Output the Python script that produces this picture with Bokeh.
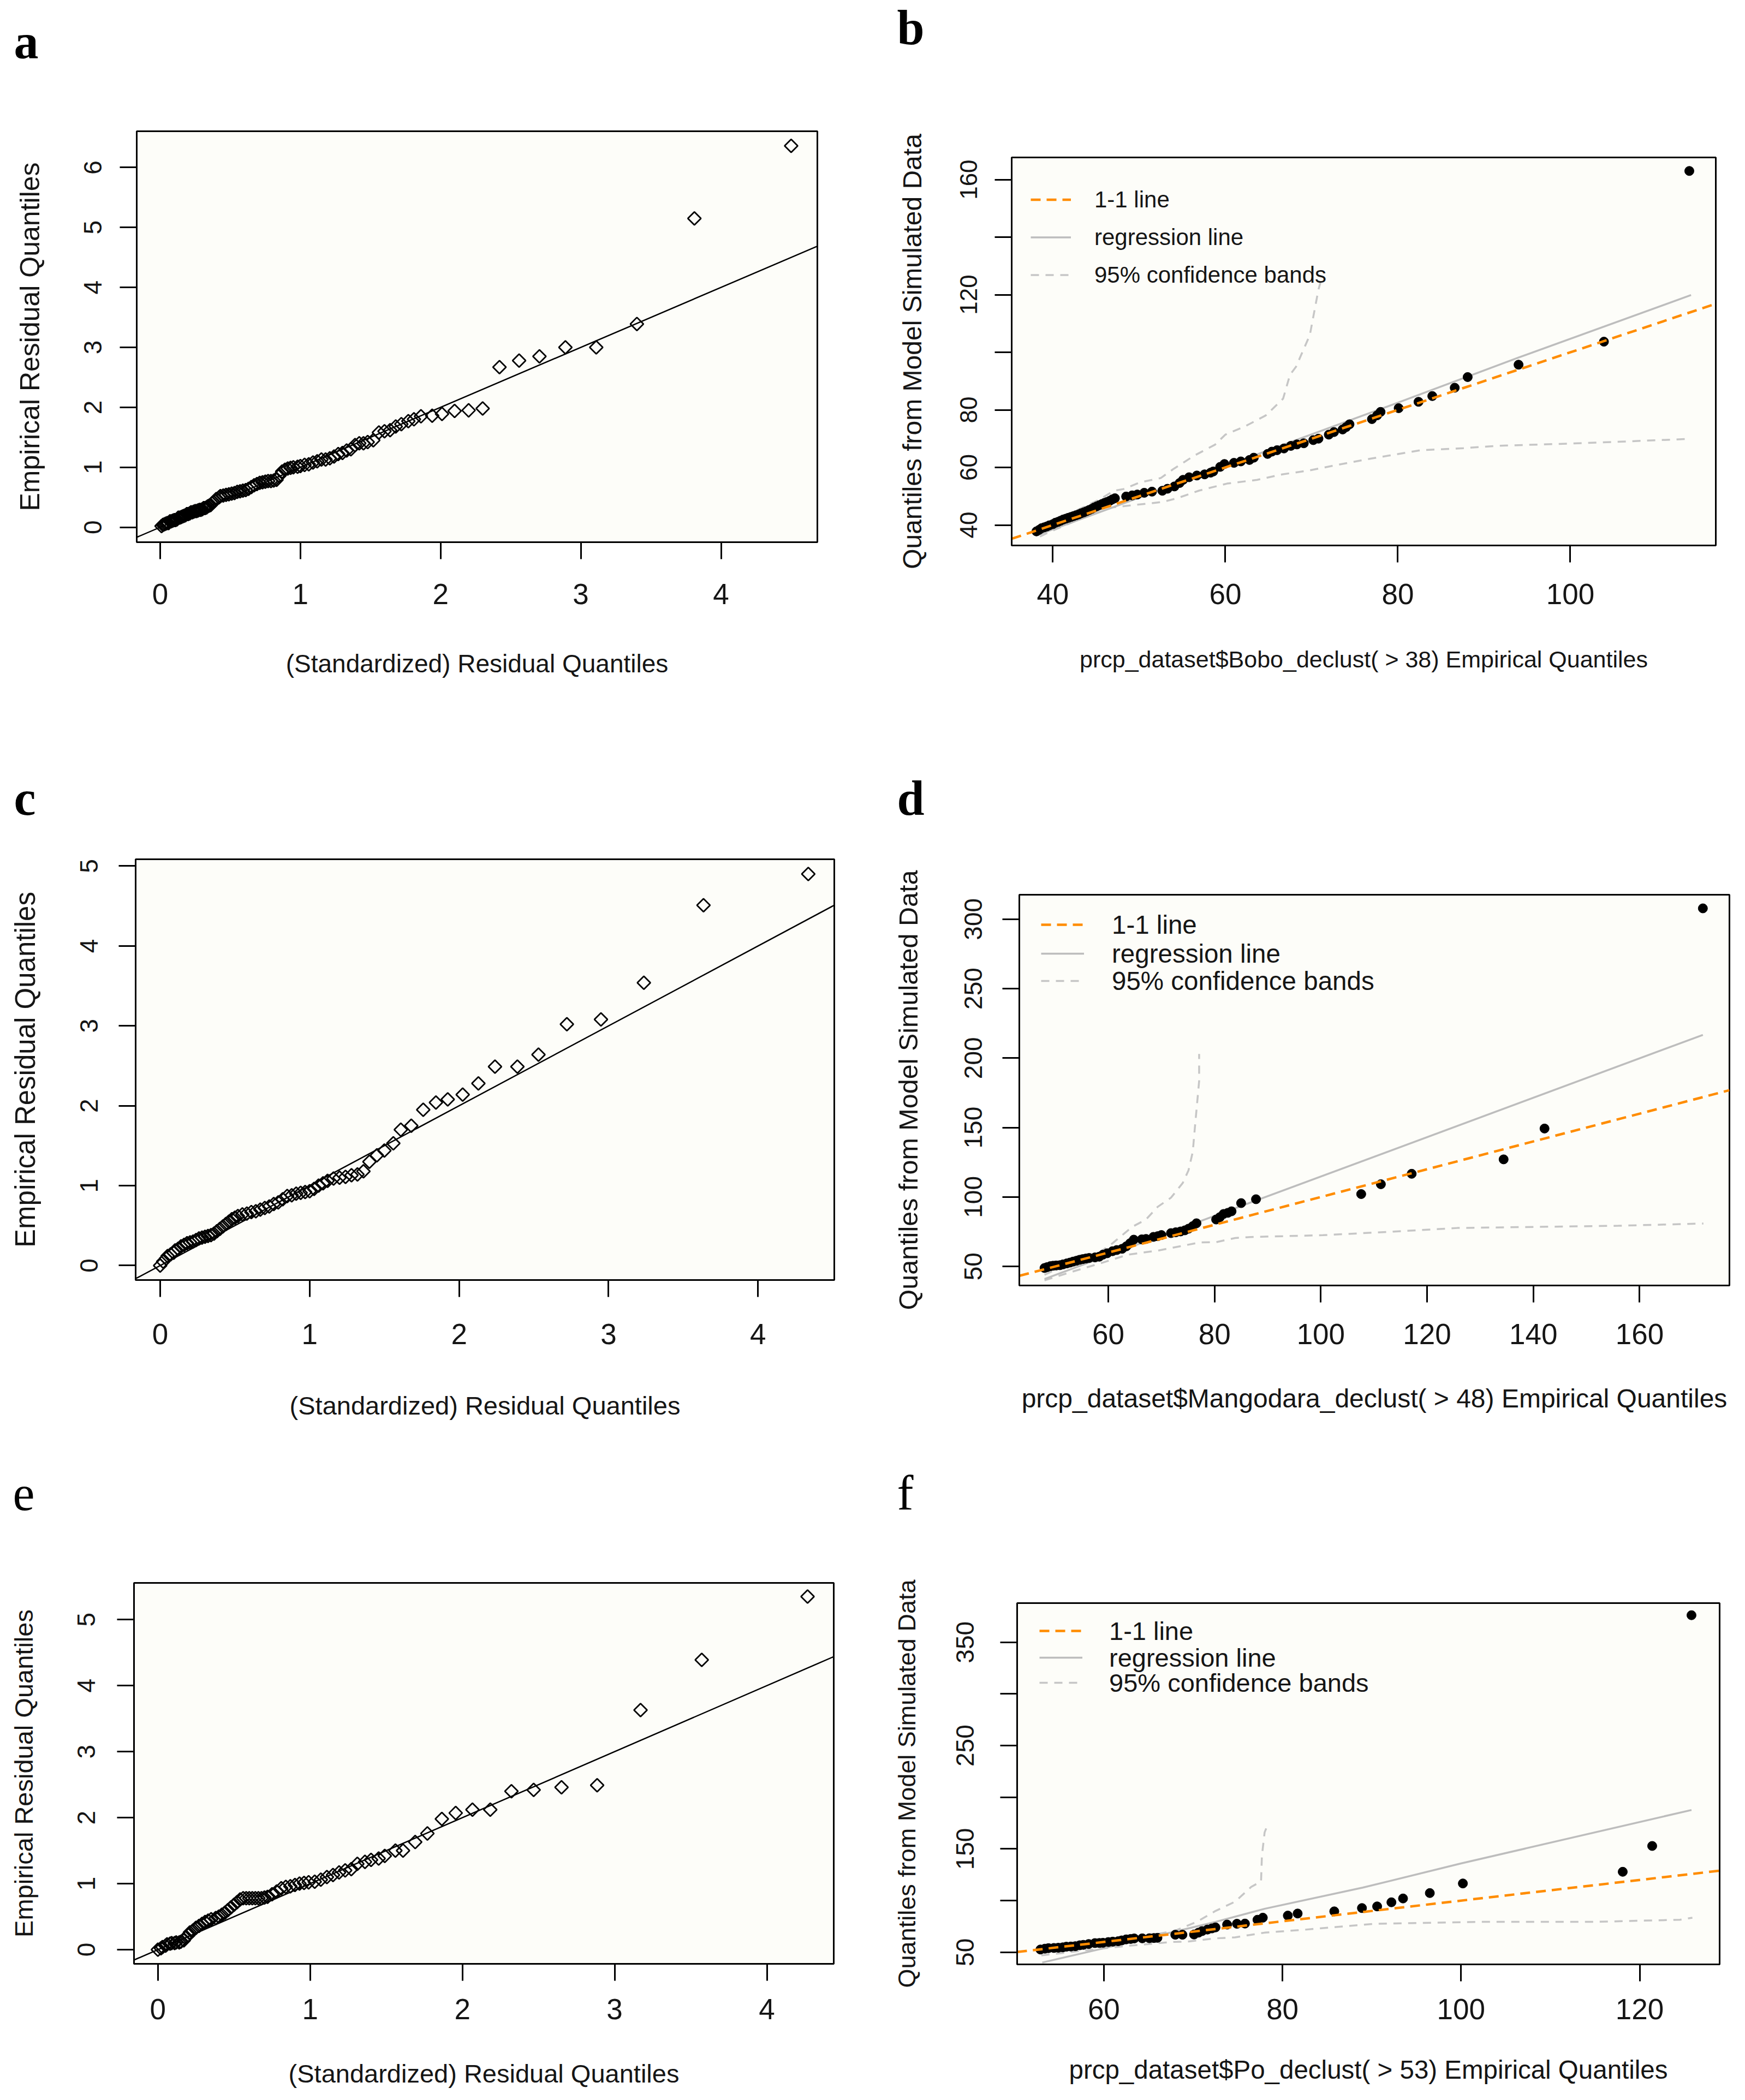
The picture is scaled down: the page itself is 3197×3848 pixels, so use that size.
import math
from bokeh.plotting import figure
from bokeh.models import Range1d, FixedTicker, Legend, LegendItem
from bokeh.layouts import column, row
from bokeh.core.properties import value
from bokeh.embed import file_html
from bokeh.resources import INLINE

# ---------------------------------------------------------------- data
# Panel a : residual quantile plot (Bobo)
a_model_q = [0.01, 0.02, 0.03, 0.04, 0.05, 0.06, 0.07, 0.08, 0.09, 0.10,
             0.11, 0.12, 0.13, 0.14, 0.15, 0.16, 0.17, 0.18, 0.19, 0.20,
             0.21, 0.22, 0.23, 0.24, 0.25, 0.26, 0.27, 0.28, 0.29, 0.30,
             0.31, 0.32, 0.33, 0.34, 0.35, 0.36, 0.37, 0.38, 0.39, 0.40,
             0.42, 0.43, 0.45,
             0.47, 0.49, 0.51, 0.53, 0.55, 0.57, 0.59, 0.61, 0.63, 0.65,
             0.67, 0.69, 0.71, 0.73, 0.75, 0.77, 0.79, 0.81, 0.83, 0.85,
             0.87, 0.89, 0.91, 0.93, 0.95,
             0.98, 1.00,
             1.03, 1.06, 1.09, 1.12, 1.15, 1.18, 1.21, 1.24, 1.27, 1.30,
             1.33, 1.36, 1.39, 1.42, 1.45, 1.48,
             1.52, 1.56, 1.60, 1.64, 1.68, 1.72,
             1.77, 1.81, 1.86,
             1.94, 2.01, 2.10, 2.20, 2.30,
             2.42, 2.56, 2.705, 2.89, 3.11, 3.40, 3.81, 4.50]
a_emp_q = [0.02, 0.04, 0.05, 0.06, 0.07, 0.07, 0.10, 0.10, 0.11, 0.12,
           0.12, 0.13, 0.16, 0.16, 0.17, 0.18, 0.19, 0.20, 0.22, 0.22,
           0.23, 0.25, 0.25, 0.26, 0.27, 0.27, 0.28, 0.29, 0.29, 0.30,
           0.32, 0.32, 0.33, 0.35, 0.36, 0.37, 0.40, 0.42, 0.44, 0.47,
           0.50, 0.52, 0.53,
           0.54, 0.55, 0.56, 0.57, 0.59, 0.60, 0.61, 0.62, 0.64, 0.67,
           0.70, 0.72, 0.74, 0.75, 0.76, 0.77, 0.77, 0.78, 0.79, 0.86,
           0.93, 0.96, 0.98, 0.99, 1.00,
           1.01, 1.02,
           1.04, 1.05, 1.08, 1.10, 1.13, 1.13, 1.15, 1.18, 1.22, 1.24,
           1.28, 1.30, 1.37, 1.40, 1.40, 1.42,
           1.45, 1.58, 1.60, 1.62, 1.68, 1.72,
           1.77, 1.80, 1.85,
           1.86, 1.89, 1.94, 1.95, 1.98,
           2.67, 2.78, 2.85, 3.00, 3.00, 3.39, 5.15, 6.36]
a_xticks = [0, 1, 2, 3, 4]
a_yticks = [0, 1, 2, 3, 4, 5, 6]

# Panel b : model vs empirical quantiles (Bobo, > 38)
b_emp_q = [38.1, 38.4, 38.7, 39.0, 39.3, 39.6, 40.0, 40.3, 40.6, 40.9,
           41.2, 41.5, 41.8, 42.1, 42.4, 42.7, 43.0, 43.3, 43.6, 43.9,
           44.2, 44.5, 44.8, 45.1, 45.4, 45.7, 46.0, 46.3, 46.6, 46.9,
           47.2, 48.5, 49.2, 49.8, 50.6, 51.5, 52.7, 53.3, 54.1, 54.7,
           55.1, 55.8, 56.7, 57.6, 58.3, 58.6, 59.4, 59.9, 61.0, 61.8,
           62.8, 63.3, 64.9, 65.4, 66.0, 66.8, 67.6, 68.3, 69.1, 70.2,
           70.8, 72.0, 72.6, 73.6, 74.0, 74.4, 77.0, 77.6, 78.0, 80.1,
           82.4, 84.0, 86.6, 88.1, 94.0, 103.9, 113.8]
b_model_q = [37.8, 38.3, 38.9, 39.2, 39.5, 39.9, 40.3, 40.8, 41.1, 41.5,
             41.9, 42.2, 42.5, 42.8, 43.1, 43.4, 43.7, 44.1, 44.4, 44.8,
             45.2, 45.6, 46.1, 46.5, 46.9, 47.3, 47.7, 48.0, 48.4, 48.9,
             49.3, 49.9, 50.3, 50.6, 51.2, 51.6, 51.9, 52.6, 53.4, 54.6,
             55.7, 56.6, 57.2, 57.6, 58.2, 58.6, 60.2, 61.2, 61.6, 62.1,
             62.6, 63.4, 64.7, 65.5, 66.0, 66.6, 67.5, 68.0, 68.4, 69.5,
             70.0, 71.4, 72.3, 73.2, 74.0, 75.0, 76.8, 78.1, 79.3, 80.6,
             82.8, 84.8, 87.7, 91.4, 95.7, 103.7, 163.0]
b_reg_x = [38.0, 60.0, 80.0, 94.0, 114.0]
b_reg_y = [36.3, 60.5, 82.5, 98.2, 119.9]
b_upper_x = [38.1, 42.0, 45.3, 47.1, 48.2, 50.1, 52.5, 54.0, 56.4, 58.8,
             60.0, 62.3, 64.7, 66.7, 67.5, 68.2, 69.8, 70.8, 71.1]
b_upper_y = [39.0, 44.0, 48.7, 51.9, 52.5, 54.8, 56.3, 59.5, 64.1, 67.9,
             71.4, 74.3, 78.1, 83.9, 92.2, 95.0, 106.0, 121.8, 125.0]
b_lower_x = [38.5, 39.7, 43.7, 46.9, 49.6, 52.7, 54.4, 57.0, 60.2, 63.7,
             66.6, 69.8, 73.0, 76.9, 82.7, 87.6, 91.5, 99.9, 107.0, 113.7]
b_lower_y = [36.0, 37.7, 42.8, 46.1, 47.0, 48.0, 49.3, 52.0, 54.4, 55.7,
             57.6, 59.0, 60.9, 63.1, 66.0, 66.7, 67.5, 68.3, 69.1, 69.9]
b_xticks = [40, 60, 80, 100]
b_yticks = [40, 60, 80, 100, 120, 140, 160]
b_yhidden = [100, 140]

# Panel c : residual quantile plot (Mangodara)
c_model_q = [0.00, 0.02, 0.04, 0.05, 0.07, 0.09, 0.10, 0.12, 0.14, 0.16,
             0.18, 0.20, 0.22, 0.24, 0.26, 0.28, 0.30, 0.32, 0.34, 0.36,
             0.38, 0.40, 0.42, 0.44, 0.46, 0.48, 0.50, 0.52, 0.55, 0.58,
             0.61, 0.64, 0.67, 0.70, 0.73, 0.76, 0.79, 0.82, 0.85, 0.88,
             0.91, 0.94, 0.97, 1.00, 1.03, 1.06, 1.09, 1.12, 1.16, 1.20,
             1.24, 1.28, 1.32, 1.36, 1.40, 1.45, 1.50, 1.56, 1.61, 1.68,
             1.76, 1.845, 1.924, 2.024, 2.129, 2.240, 2.390, 2.531, 2.721, 2.949,
             3.236, 3.635, 4.336]
c_emp_q = [0.00, 0.05, 0.09, 0.12, 0.14, 0.16, 0.19, 0.21, 0.24, 0.26,
           0.28, 0.29, 0.30, 0.32, 0.34, 0.35, 0.36, 0.37, 0.38, 0.40,
           0.43, 0.46, 0.49, 0.52, 0.55, 0.58, 0.60, 0.62, 0.64, 0.65,
           0.67, 0.68, 0.70, 0.72, 0.74, 0.77, 0.79, 0.83, 0.87, 0.88,
           0.90, 0.91, 0.92, 0.93, 0.96, 1.00, 1.03, 1.06, 1.09, 1.10,
           1.11, 1.13, 1.14, 1.18, 1.30, 1.38, 1.44, 1.53, 1.70, 1.75,
           1.95, 2.04, 2.08, 2.14, 2.28, 2.49, 2.49, 2.64, 3.02, 3.08,
           3.54, 4.51, 4.90]
c_xticks = [0, 1, 2, 3, 4]
c_yticks = [0, 1, 2, 3, 4, 5]

# Panel d : model vs empirical quantiles (Mangodara, > 48)
d_emp_q = [48.0, 48.5, 49.1, 49.6, 50.2, 50.9, 51.5, 52.2, 52.8, 53.4,
           54.0, 54.6, 55.2, 55.8, 56.4, 57.5, 58.3, 59.0, 59.8, 60.8,
           61.6, 62.6, 63.4, 64.1, 64.8, 66.3, 67.1, 68.5, 69.3, 70.0,
           71.8, 72.7, 73.6, 74.4, 75.1, 75.9, 76.6, 80.3, 81.0, 81.7,
           82.5, 83.2, 85.0, 87.8, 107.6, 111.3, 117.1, 134.4, 142.1, 171.9]
d_model_q = [48.9, 49.5, 50.2, 50.5, 50.7, 50.9, 51.5, 52.2, 52.8, 53.5,
             54.1, 54.8, 55.3, 55.7, 56.1, 56.5, 57.0, 58.5, 59.5, 61.0,
             61.8, 62.7, 64.5, 66.7, 69.3, 69.5, 69.8, 71.3, 71.8, 72.6,
             74.0, 74.6, 75.2, 76.0, 77.2, 79.0, 81.1, 83.8, 85.5, 87.8,
             88.6, 89.7, 95.6, 98.4, 102.1, 109.2, 116.7, 127.1, 149.3, 307.8]
d_reg_x = [48.0, 171.9]
d_reg_y = [41.0, 216.7]
d_upper_x = [48.0, 52.0, 56.0, 58.5, 60.8, 64.5, 67.1, 69.3, 71.8, 74.0,
             75.1, 75.9, 76.3, 77.1, 77.1]
d_upper_y = [44.0, 51.0, 56.5, 60.5, 66.7, 78.5, 83.8, 92.9, 99.5, 110.0,
             119.2, 132.5, 150.0, 183.5, 203.0]
d_lower_x = [48.0, 53.0, 58.3, 63.7, 69.3, 73.6, 77.3, 80.3, 83.9, 87.5,
             100.4, 113.7, 125.7, 156.0, 172.0]
d_lower_y = [40.0, 46.0, 52.0, 58.5, 61.4, 64.6, 67.3, 67.5, 70.5, 71.3,
             72.5, 75.1, 77.7, 79.3, 80.9]
d_xticks = [60, 80, 100, 120, 140, 160]
d_yticks = [50, 100, 150, 200, 250, 300]

# Panel e : residual quantile plot (Po)
e_model_q = [0.00, 0.02, 0.03, 0.05, 0.06, 0.08, 0.09, 0.11, 0.12, 0.14,
             0.15, 0.17, 0.18, 0.20, 0.21, 0.23, 0.25, 0.27, 0.29, 0.31,
             0.33, 0.35, 0.38, 0.40, 0.42, 0.44, 0.46, 0.48, 0.50, 0.52,
             0.54, 0.56, 0.58, 0.60, 0.62, 0.64, 0.66, 0.68, 0.70, 0.72,
             0.75, 0.78, 0.81, 0.84, 0.87, 0.90, 0.93, 0.96, 0.99, 1.03,
             1.07, 1.11, 1.15, 1.19, 1.23, 1.27, 1.31, 1.36, 1.40, 1.45,
             1.49, 1.56, 1.61, 1.69, 1.77, 1.865, 1.956, 2.066, 2.183, 2.322,
             2.468, 2.651, 2.885, 3.170, 3.572, 4.267]
e_emp_q = [0.00, 0.02, 0.04, 0.06, 0.08, 0.09, 0.10, 0.10, 0.11, 0.11,
           0.12, 0.14, 0.18, 0.22, 0.26, 0.29, 0.33, 0.36, 0.39, 0.42,
           0.44, 0.46, 0.48, 0.50, 0.53, 0.56, 0.60, 0.64, 0.68, 0.72,
           0.76, 0.78, 0.78, 0.78, 0.78, 0.78, 0.78, 0.78, 0.79, 0.80,
           0.84, 0.88, 0.93, 0.95, 0.96, 0.98, 1.00, 1.01, 1.02, 1.03,
           1.06, 1.10, 1.13, 1.17, 1.20, 1.22, 1.30, 1.33, 1.36, 1.38,
           1.42, 1.50, 1.50, 1.63, 1.76, 1.98, 2.07, 2.12, 2.12, 2.40,
           2.42, 2.46, 2.49, 3.63, 4.39, 5.35]
e_xticks = [0, 1, 2, 3, 4]
e_yticks = [0, 1, 2, 3, 4, 5]

# Panel f : model vs empirical quantiles (Po, > 53)
f_emp_q = [52.9, 53.4, 53.8, 54.4, 54.9, 55.4, 55.8, 56.3, 56.8, 57.3,
           57.7, 58.3, 59.0, 59.5, 59.9, 60.5, 61.0, 61.6, 62.0, 62.5,
           63.0, 63.4, 64.3, 65.1, 65.6, 66.0, 68.0, 68.8, 70.1, 70.6,
           71.0, 71.6, 72.1, 72.5, 73.8, 74.9, 75.8, 77.2, 77.8, 80.6,
           81.7, 85.8, 88.9, 90.6, 92.2, 93.5, 96.5, 100.2, 118.1, 121.4,
           125.8]
f_model_q = [52.7, 53.5, 54.0, 54.2, 54.4, 54.8, 55.4, 55.6, 55.9, 56.8,
             57.2, 58.0, 58.9, 59.0, 59.2, 59.9, 60.3, 60.7, 61.5, 62.5,
             62.9, 63.4, 63.5, 63.6, 63.8, 64.0, 67.0, 67.0, 67.2, 69.0,
             70.5, 72.0, 73.1, 74.1, 76.8, 77.6, 77.8, 81.5, 83.5, 85.5,
             87.5, 89.6, 92.8, 94.4, 98.4, 102.1, 107.3, 116.6, 127.9, 152.9,
             376.2]
f_reg_x = [53.1, 63.8, 72.5, 78.0, 89.0, 100.0, 125.8]
f_reg_y = [40.1, 61.5, 79.4, 92.1, 112.6, 136.0, 187.7]
f_upper_x = [53.0, 57.0, 61.0, 65.0, 68.0, 70.4, 72.5, 74.7, 76.5, 77.6,
             77.7, 78.0, 78.2]
f_upper_y = [55.0, 58.5, 62.0, 66.0, 71.0, 79.4, 90.0, 99.0, 113.3, 118.5,
             143.4, 166.0, 170.3]
f_lower_x = [53.0, 58.0, 63.0, 67.7, 69.5, 72.5, 74.7, 76.5, 78.0, 80.3,
             82.0, 90.2, 102.7, 115.1, 124.5, 125.9]
f_lower_y = [47.0, 52.0, 56.5, 60.0, 60.5, 63.5, 64.4, 67.0, 69.0, 70.5,
             71.5, 77.5, 79.5, 79.5, 81.5, 83.5]
f_xticks = [60, 80, 100, 120]
f_yticks = [50, 100, 150, 200, 250, 300, 350]
f_yhidden = [100, 200, 300]

# axis ranges (data units)
a_xr, a_yr = (-0.167, 4.687), (-0.249, 6.604)
b_xr, b_yr = (35.23, 116.87), (32.9, 167.7)
c_xr, c_yr = (-0.164, 4.51), (-0.181, 5.085)
d_xr, d_yr = (43.26, 176.9), (36.3, 317.6)
e_xr, e_yr = (-0.157, 4.439), (-0.215, 5.556)
f_xr, f_yr = (50.29, 128.95), (38.3, 387.9)

panel_letters = [["a", "b"], ["c", "d"], ["e", "f"]]
legend_labels = ["1-1 line", "regression line", "95% confidence bands"]
resid_xlabel = "(Standardized) Residual Quantiles"
resid_ylabel = "Empirical Residual Quantiles"
model_ylabel = "Quantiles from Model Simulated Data"

# ---------------------------------------------------------------- style
SANS = "Liberation Sans"
SERIF = "Liberation Serif"
INK = "#151515"
ORANGE = "#FF8C00"
REG_GRAY = "#BDBDBD"
BAND_GRAY = "#C6C6C6"
PAGE_W = 3188


def base_figure(geo, xr, yr, xticks, yticks, xlabel, ylabel, ax, hidden=()):
    p = figure(width=geo["w"], height=geo["h"],
               x_range=Range1d(*xr), y_range=Range1d(*yr),
               output_backend="svg", toolbar_location=None,
               min_border_left=geo["l"], min_border_right=geo["r"],
               min_border_top=geo["t"], min_border_bottom=geo["b"])
    p.background_fill_color = "#fdfdf9"
    p.border_fill_color = "#ffffff"
    p.outline_line_color = "black"
    p.outline_line_width = 3
    p.xgrid.visible = False
    p.ygrid.visible = False
    xa, ya = p.xaxis[0], p.yaxis[0]
    for a in (xa, ya):
        a.axis_line_color = "black"
        a.axis_line_width = 3
        a.major_tick_line_color = "black"
        a.major_tick_line_width = 3
        a.major_tick_out = 31
        a.major_tick_in = 0
        a.minor_tick_line_color = None
        a.major_label_text_font = SANS
        a.major_label_text_color = INK
        a.axis_label_text_font = SANS
        a.axis_label_text_font_style = "normal"
        a.axis_label_text_color = INK
    xa.ticker = FixedTicker(ticks=xticks, minor_ticks=[])
    ya.ticker = FixedTicker(ticks=yticks, minor_ticks=[])
    if hidden:
        ya.major_label_overrides = {v: "" for v in hidden}
    xa.axis_label = xlabel
    ya.axis_label = ylabel
    xa.major_label_text_font_size = f"{ax['xtick_fs']}px"
    ya.major_label_text_font_size = f"{ax['ytick_fs']}px"
    xa.axis_label_text_font_size = f"{ax['xlab_fs']}px"
    ya.axis_label_text_font_size = f"{ax['ylab_fs']}px"
    xa.major_label_standoff = ax["xtick_so"]
    ya.major_label_standoff = ax["ytick_so"]
    xa.axis_label_standoff = ax["xlab_so"]
    ya.axis_label_standoff = ax["ylab_so"]
    ya.major_label_orientation = "vertical"
    return p


def letter_strip(h, letters, xs, ys, style):
    # a thin strip holding the two panel letters of one row (pixel coordinates)
    p = figure(width=PAGE_W, height=h, x_range=Range1d(0, PAGE_W),
               y_range=Range1d(h, 0), output_backend="svg",
               toolbar_location=None, x_axis_type=None, y_axis_type=None,
               min_border=0)
    p.outline_line_color = None
    p.background_fill_color = "#ffffff"
    p.border_fill_color = "#ffffff"
    p.text(x=xs, y=ys, text=letters, text_font=value(SERIF),
           text_font_size="90px", text_font_style=style,
           text_baseline="middle", text_align="left", text_color="black")
    return p


def resid_panel(geo, xr, yr, xq, yq, xticks, yticks, ax):
    p = base_figure(geo, xr, yr, xticks, yticks, resid_xlabel, resid_ylabel, ax)
    p.line(x=[xr[0], xr[1]], y=[xr[0], xr[1]], line_color="black", line_width=2.5)
    p.scatter(x=xq, y=yq, marker="square", angle=math.pi / 4, size=17,
              fill_color=None, line_color="black", line_width=2.8)
    return p


def model_panel(geo, xr, yr, xq, yq, reg, up, lo, xticks, yticks, hidden,
                xlabel, ax, lg):
    p = base_figure(geo, xr, yr, xticks, yticks, xlabel, model_ylabel, ax, hidden)
    r_up = p.line(x=up[0], y=up[1], line_color=BAND_GRAY, line_width=3.5,
                  line_dash="15 12")
    p.line(x=lo[0], y=lo[1], line_color=BAND_GRAY, line_width=3.5,
           line_dash="15 12")
    r_reg = p.line(x=reg[0], y=reg[1], line_color=REG_GRAY, line_width=3.5)
    p.scatter(x=xq, y=yq, marker="circle", size=17, fill_color="black",
              line_color="black")
    r_11 = p.line(x=[xr[0], xr[1]], y=[xr[0], xr[1]], line_color=ORANGE,
                  line_width=4.5, line_dash="18 11")
    # one single-entry legend per row, so the row pitch can be set freely
    for label, rend, vy in zip(legend_labels, [r_11, r_reg, r_up], lg["ys"]):
        leg = Legend(items=[LegendItem(label=label, renderers=[rend])],
                     location=(lg["x"], vy), orientation="vertical",
                     background_fill_alpha=0, border_line_alpha=0,
                     padding=0, margin=0, spacing=0,
                     glyph_width=lg["gw"], glyph_height=lg["gh"],
                     label_height=lg["gh"], label_standoff=lg["so"],
                     label_text_font=SANS, label_text_font_size=f"{lg['fs']}px",
                     label_text_color=INK, label_text_baseline="middle")
        p.add_layout(leg)
    return p


# geometry (pixels): figure size and borders around the plotting frame
geo_a = dict(w=1608, h=1250, l=250, r=111, t=100, b=397)
geo_b = dict(w=1580, h=1250, l=245, r=45, t=148, b=391)
geo_c = dict(w=1608, h=1100, l=248, r=80, t=44, b=285)
geo_d = dict(w=1580, h=1100, l=259, r=20, t=109, b=275)
geo_e = dict(w=1608, h=1048, l=245, r=81, t=110, b=240)
geo_f = dict(w=1580, h=1048, l=255, r=38, t=147, b=239)

ax_a = dict(xtick_fs=53, ytick_fs=46, xlab_fs=46, ylab_fs=50,
            xtick_so=45, ytick_so=33, xlab_so=80, ylab_so=69)
ax_b = dict(xtick_fs=53, ytick_fs=44, xlab_fs=43, ylab_fs=48,
            xtick_so=39, ytick_so=32, xlab_so=74, ylab_so=59)
ax_c = dict(xtick_fs=53, ytick_fs=46, xlab_fs=47, ylab_fs=51,
            xtick_so=49, ytick_so=38, xlab_so=83, ylab_so=70)
ax_d = dict(xtick_fs=53, ytick_fs=46, xlab_fs=48, ylab_fs=48.5,
            xtick_so=39, ytick_so=37, xlab_so=70, ylab_so=74)
ax_e = dict(xtick_fs=53, ytick_fs=46, xlab_fs=47, ylab_fs=47,
            xtick_so=33, ytick_so=40, xlab_so=70, ylab_so=70)
ax_f = dict(xtick_fs=53, ytick_fs=46, xlab_fs=47.5, ylab_fs=45,
            xtick_so=32, ytick_so=48, xlab_so=63, ylab_so=63)

# legend rows: x offset and bottom of each row, pixels from the frame's lower-left
lg_b = dict(x=35, ys=[599, 530, 461], gw=74, gh=69, so=43, fs=42)
lg_d = dict(x=40, ys=[631, 578, 528], gw=79, gh=60, so=51, fs=47.5)
lg_f = dict(x=41, ys=[581, 532, 486], gw=79, gh=60, so=49, fs=47)

# letter strips: height, x positions, vertical centres (pixels from strip top)
strip1 = dict(h=140, xs=[25, 1643], ys=[76, 50], style="bold")
strip2 = dict(h=140, xs=[25, 1643], ys=[72, 72], style="bold")
strip3 = dict(h=160, xs=[23, 1643], ys=[106, 105], style="normal")

L1 = letter_strip(strip1["h"], panel_letters[0], strip1["xs"], strip1["ys"], strip1["style"])
L2 = letter_strip(strip2["h"], panel_letters[1], strip2["xs"], strip2["ys"], strip2["style"])
L3 = letter_strip(strip3["h"], panel_letters[2], strip3["xs"], strip3["ys"], strip3["style"])

pa = resid_panel(geo_a, a_xr, a_yr, a_model_q, a_emp_q, a_xticks, a_yticks, ax_a)
pb = model_panel(geo_b, b_xr, b_yr, b_emp_q, b_model_q, (b_reg_x, b_reg_y),
                 (b_upper_x, b_upper_y), (b_lower_x, b_lower_y),
                 b_xticks, b_yticks, b_yhidden,
                 "prcp_dataset$Bobo_declust( > 38) Empirical Quantiles",
                 ax_b, lg_b)
pc = resid_panel(geo_c, c_xr, c_yr, c_model_q, c_emp_q, c_xticks, c_yticks, ax_c)
pd_ = model_panel(geo_d, d_xr, d_yr, d_emp_q, d_model_q, (d_reg_x, d_reg_y),
                  (d_upper_x, d_upper_y), (d_lower_x, d_lower_y),
                  d_xticks, d_yticks, (),
                  "prcp_dataset$Mangodara_declust( > 48) Empirical Quantiles",
                  ax_d, lg_d)
pe = resid_panel(geo_e, e_xr, e_yr, e_model_q, e_emp_q, e_xticks, e_yticks, ax_e)
pf = model_panel(geo_f, f_xr, f_yr, f_emp_q, f_model_q, (f_reg_x, f_reg_y),
                 (f_upper_x, f_upper_y), (f_lower_x, f_lower_y),
                 f_xticks, f_yticks, f_yhidden,
                 "prcp_dataset$Po_declust( > 53) Empirical Quantiles",
                 ax_f, lg_f)

layout = column(L1, row(column(pa), column(pb)),
                L2, row(column(pc), column(pd_)),
                L3, row(column(pe), column(pf)))
open("out.html", "w").write(file_html(layout, INLINE, title="QQ diagnostics"))
